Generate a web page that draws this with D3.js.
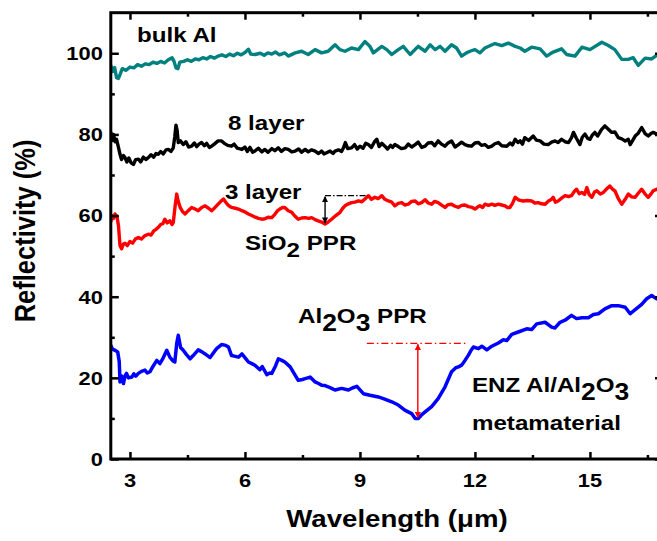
<!DOCTYPE html>
<html>
<head>
<meta charset="utf-8">
<script src="https://cdn.jsdelivr.net/npm/d3@7"></script>
<style>
  body { margin: 0; background: #fff; }
  svg { display: block; }
  text { font-family: 'Liberation Sans', Arial, sans-serif; font-weight: bold; fill: #000; }
</style>
</head>
<body>
<svg id="chart" width="657" height="541"></svg>
<script>
// Reflectivity spectra, [wavelength (µm), reflectivity (%)]
const bulkAl = [
  [2.50,97.0],[2.55,95.5],[2.60,96.5],[2.65,94.0],[2.70,93.8],[2.75,95.0],[2.80,96.2],[2.90,95.8],
  [3.00,96.6],[3.10,96.4],[3.20,97.2],[3.30,96.8],[3.40,97.4],[3.50,97.2],[3.60,97.8],[3.70,97.5],
  [3.80,98.0],[3.90,97.6],[4.00,98.4],[4.10,98.9],[4.15,98.0],[4.20,96.4],[4.25,96.2],[4.30,97.8],
  [4.40,98.0],[4.50,98.4],[4.60,98.0],[4.70,98.6],[4.80,98.4],[4.90,98.9],[5.00,98.6],[5.10,99.2],
  [5.20,98.8],[5.30,99.3],[5.40,99.6],[5.50,99.2],[5.60,99.8],[5.70,99.4],[5.80,100.0],[5.90,99.6],
  [6.00,100.2],[6.09,101.0],[6.15,99.8],[6.26,99.7],[6.40,100.0],[6.50,99.5],[6.60,100.1],[6.70,99.8],
  [6.80,100.3],[6.90,99.6],[7.04,100.1],[7.13,99.3],[7.31,100.1],[7.48,100.5],[7.65,99.7],[7.83,100.9],
  [8.00,100.1],[8.17,100.5],[8.35,102.1],[8.48,100.9],[8.61,100.5],[8.78,101.3],[8.96,100.9],[9.13,102.9],
  [9.26,101.7],[9.35,100.1],[9.57,101.7],[9.70,100.9],[9.83,99.7],[10.00,100.9],[10.13,101.7],[10.31,99.7],
  [10.52,101.7],[10.70,100.5],[10.83,102.1],[10.96,100.9],[11.09,101.7],[11.22,100.5],[11.39,102.1],[11.52,101.3],
  [11.65,99.3],[11.78,100.1],[11.87,100.5],[12.00,100.9],[12.13,100.1],[12.26,101.3],[12.52,102.4],[12.70,101.9],
  [12.87,102.5],[13.05,101.7],[13.18,101.3],[13.30,100.5],[13.48,101.5],[13.70,101.1],[13.87,99.3],[14.04,100.3],
  [14.26,101.1],[14.39,99.7],[14.61,99.3],[14.79,101.5],[15.00,100.9],[15.31,102.7],[15.48,101.9],[15.65,100.9],
  [15.83,98.5],[16.00,98.5],[16.13,98.9],[16.26,97.0],[16.44,98.8],[16.61,98.6],[16.74,99.5],[16.88,99.7]
];

const layer8 = [
  [2.50,80.5],[2.53,78.5],[2.57,80.0],[2.61,78.2],[2.65,78.8],[2.70,76.8],[2.74,75.1],[2.78,73.8],
  [2.83,74.8],[2.87,74.3],[2.92,73.2],[2.97,74.2],[3.03,73.0],[3.09,72.6],[3.15,73.8],[3.22,73.9],
  [3.28,73.2],[3.35,74.4],[3.42,73.8],[3.48,74.3],[3.55,75.0],[3.62,74.4],[3.68,75.3],[3.74,75.1],
  [3.80,75.8],[3.87,75.2],[3.94,76.2],[4.00,76.3],[4.07,75.8],[4.13,76.7],[4.17,79.5],[4.20,82.3],
  [4.23,81.0],[4.26,78.0],[4.32,78.4],[4.39,77.5],[4.46,78.2],[4.53,76.9],[4.61,77.1],[4.68,77.9],
  [4.74,77.0],[4.80,77.6],[4.87,78.0],[4.94,77.2],[5.00,77.8],[5.07,76.8],[5.13,77.1],[5.20,77.6],
  [5.30,78.4],[5.39,78.4],[5.46,77.8],[5.55,77.3],[5.65,77.1],[5.72,77.6],[5.80,76.6],[5.92,76.3],
  [6.00,76.9],[6.06,75.8],[6.13,76.8],[6.20,75.6],[6.26,75.9],[6.35,76.6],[6.44,75.7],[6.52,76.3],
  [6.60,75.6],[6.70,76.5],[6.78,76.0],[6.87,76.7],[6.95,75.8],[7.04,76.5],[7.13,76.3],[7.22,75.7],
  [7.31,75.9],[7.40,76.4],[7.48,75.6],[7.57,76.3],[7.65,75.7],[7.74,76.2],[7.83,75.9],[7.92,75.3],
  [8.00,75.9],[8.06,75.2],[8.13,75.5],[8.22,75.9],[8.30,75.3],[8.35,75.9],[8.44,76.2],[8.52,75.8],
  [8.57,76.7],[8.62,78.0],[8.68,76.5],[8.78,76.7],[8.86,77.5],[8.93,76.4],[9.00,77.1],[9.08,76.6],
  [9.15,77.8],[9.22,77.5],[9.30,76.8],[9.38,78.2],[9.44,78.8],[9.50,77.0],[9.57,77.8],[9.65,77.1],
  [9.72,76.4],[9.80,77.3],[9.85,76.8],[9.91,77.5],[10.00,77.0],[10.08,76.5],[10.18,76.7],[10.26,77.6],
  [10.35,76.9],[10.44,77.5],[10.52,78.1],[10.61,76.8],[10.70,77.1],[10.78,77.9],[10.87,78.0],[10.95,77.2],
  [11.04,78.4],[11.13,77.6],[11.22,77.1],[11.30,77.9],[11.39,78.4],[11.48,76.9],[11.57,77.5],[11.65,78.1],
  [11.74,77.5],[11.83,77.2],[11.91,77.1],[12.00,77.9],[12.09,78.0],[12.17,77.3],[12.26,77.5],[12.35,76.8],
  [12.44,77.1],[12.52,77.7],[12.61,78.0],[12.70,77.2],[12.83,77.1],[12.92,77.9],[12.98,77.4],[13.05,78.8],
  [13.12,78.0],[13.18,78.4],[13.24,77.6],[13.30,79.2],[13.40,78.5],[13.52,79.6],[13.60,78.6],[13.70,78.4],
  [13.80,77.6],[13.91,77.5],[14.00,78.1],[14.09,78.4],[14.17,78.0],[14.26,78.8],[14.35,78.2],[14.44,78.0],
  [14.52,79.2],[14.57,80.5],[14.65,79.0],[14.74,77.5],[14.80,79.3],[14.87,80.1],[14.94,79.0],[15.00,78.8],
  [15.06,79.8],[15.13,80.5],[15.20,79.6],[15.30,81.2],[15.39,82.1],[15.48,81.3],[15.57,80.5],[15.65,80.6],
  [15.74,79.2],[15.83,78.9],[15.92,78.4],[16.00,78.8],[16.05,77.5],[16.12,78.6],[16.18,79.6],[16.26,80.3],
  [16.35,81.7],[16.44,80.2],[16.52,79.6],[16.60,80.3],[16.65,80.5],[16.74,80.1],[16.88,80.4]
];

const layer3 = [
  [2.50,58.5],[2.53,60.0],[2.57,59.3],[2.61,60.4],[2.66,59.8],[2.70,57.5],[2.74,52.6],[2.78,51.8],
  [2.83,53.0],[2.87,53.2],[2.93,52.6],[3.00,53.6],[3.07,53.2],[3.14,54.2],[3.22,54.6],[3.30,54.2],
  [3.38,55.0],[3.48,55.4],[3.55,55.2],[3.62,56.2],[3.68,56.6],[3.74,57.1],[3.80,57.8],[3.86,58.0],
  [3.91,59.1],[3.97,58.2],[4.04,58.7],[4.10,57.8],[4.13,58.3],[4.18,62.5],[4.22,65.3],[4.26,63.5],
  [4.31,62.0],[4.37,61.0],[4.44,60.4],[4.52,61.2],[4.61,62.0],[4.70,61.6],[4.78,61.2],[4.87,62.0],
  [4.96,62.4],[5.05,61.8],[5.13,61.2],[5.22,62.0],[5.30,62.8],[5.37,63.5],[5.44,64.1],[5.52,63.0],
  [5.58,62.4],[5.65,62.0],[5.75,61.8],[5.83,61.6],[5.92,61.2],[6.00,60.9],[6.09,60.4],[6.18,60.0],
  [6.27,59.6],[6.35,59.3],[6.44,59.1],[6.52,59.2],[6.60,59.6],[6.70,59.5],[6.78,60.3],[6.85,61.2],
  [6.91,61.6],[6.98,62.0],[7.04,62.0],[7.13,61.2],[7.22,60.8],[7.30,59.9],[7.39,59.1],[7.48,59.4],
  [7.57,59.5],[7.66,59.3],[7.74,59.5],[7.83,59.0],[7.91,58.7],[8.00,58.4],[8.09,57.9],[8.17,58.4],
  [8.26,59.1],[8.37,60.0],[8.48,60.8],[8.55,61.8],[8.61,62.4],[8.70,62.9],[8.78,63.2],[8.87,63.3],
  [8.96,63.6],[9.05,63.4],[9.13,64.1],[9.22,64.9],[9.30,64.0],[9.39,64.5],[9.48,64.2],[9.57,64.9],
  [9.65,64.0],[9.74,63.6],[9.82,63.4],[9.91,62.4],[10.00,63.0],[10.09,63.2],[10.17,62.6],[10.26,62.8],
  [10.35,63.5],[10.44,63.6],[10.52,62.9],[10.61,63.2],[10.70,63.9],[10.78,63.1],[10.87,62.8],[10.95,63.5],
  [11.04,63.2],[11.13,62.6],[11.22,62.0],[11.30,62.7],[11.39,62.8],[11.48,62.3],[11.57,62.0],[11.65,62.5],
  [11.74,62.6],[11.83,62.2],[11.93,62.0],[12.00,61.6],[12.07,62.1],[12.13,62.4],[12.20,62.0],[12.26,62.8],
  [12.35,62.5],[12.44,62.8],[12.52,62.5],[12.61,62.8],[12.70,62.6],[12.78,62.4],[12.85,62.0],[12.91,62.0],
  [12.98,63.0],[13.05,64.5],[13.15,63.8],[13.26,63.6],[13.37,63.7],[13.48,63.6],[13.56,63.1],[13.65,63.2],
  [13.74,62.9],[13.83,62.8],[13.92,63.6],[14.00,64.0],[14.04,64.5],[14.10,63.3],[14.17,63.6],[14.26,64.3],
  [14.35,64.9],[14.44,64.7],[14.52,64.9],[14.58,65.8],[14.65,66.5],[14.72,65.4],[14.79,65.7],[14.86,65.2],
  [14.92,66.9],[14.98,65.2],[15.05,64.5],[15.12,65.8],[15.18,66.1],[15.27,65.3],[15.35,65.7],[15.44,66.6],
  [15.52,67.3],[15.58,66.6],[15.65,66.1],[15.74,64.2],[15.83,62.8],[15.92,64.0],[16.00,65.3],[16.09,64.6],
  [16.18,64.5],[16.26,65.5],[16.35,66.5],[16.44,65.3],[16.52,64.5],[16.60,65.4],[16.65,66.1],[16.74,66.5],
  [16.88,65.8]
];

const enzMeta = [
  [2.50,28.0],[2.55,27.0],[2.61,26.8],[2.68,26.4],[2.72,24.0],[2.74,19.0],[2.78,20.5],[2.83,18.6],
  [2.87,20.5],[2.91,21.1],[2.96,20.0],[3.05,20.2],[3.10,21.0],[3.15,20.4],[3.22,21.1],[3.30,21.6],
  [3.39,21.9],[3.45,21.2],[3.52,21.5],[3.60,22.8],[3.70,24.3],[3.78,23.5],[3.85,24.6],[3.96,26.8],
  [4.04,25.1],[4.12,24.2],[4.17,23.9],[4.22,28.5],[4.26,30.5],[4.32,27.5],[4.39,26.8],[4.47,25.8],
  [4.57,24.7],[4.65,25.5],[4.78,26.9],[4.88,26.4],[4.96,25.9],[5.09,25.0],[5.18,26.2],[5.26,27.2],
  [5.39,28.2],[5.50,28.0],[5.57,27.6],[5.65,25.5],[5.75,25.3],[5.83,25.1],[5.92,25.9],[6.00,25.0],
  [6.09,23.9],[6.18,23.5],[6.26,23.1],[6.39,22.0],[6.45,22.8],[6.57,20.8],[6.65,21.2],[6.70,21.1],
  [6.80,23.0],[6.87,24.7],[6.96,24.3],[7.04,23.9],[7.18,22.7],[7.30,20.8],[7.39,19.4],[7.50,19.6],
  [7.57,19.8],[7.70,20.2],[7.83,19.0],[7.92,18.6],[8.00,18.2],[8.09,18.1],[8.17,17.8],[8.26,17.4],
  [8.35,17.0],[8.52,17.4],[8.70,17.0],[8.80,17.5],[8.92,17.9],[9.09,16.1],[9.26,15.7],[9.48,15.3],
  [9.61,14.9],[9.83,14.1],[10.00,13.3],[10.18,12.0],[10.35,11.2],[10.44,10.0],[10.52,10.0],[10.60,10.8],
  [10.70,11.6],[10.87,12.9],[11.04,14.9],[11.22,17.8],[11.39,21.5],[11.50,22.5],[11.57,22.7],[11.66,23.2],
  [11.74,24.3],[11.83,25.6],[11.90,26.8],[11.96,27.6],[12.09,27.2],[12.18,27.8],[12.31,26.9],[12.44,27.8],
  [12.61,28.6],[12.74,29.4],[12.83,29.2],[12.96,30.7],[13.13,31.3],[13.35,32.1],[13.48,31.9],[13.61,33.3],
  [13.83,33.7],[14.00,32.5],[14.09,32.3],[14.22,33.7],[14.35,34.2],[14.52,35.4],[14.65,34.6],[14.79,34.8],
  [14.96,34.8],[15.09,35.6],[15.22,35.8],[15.39,37.0],[15.57,37.8],[15.74,37.8],[15.92,37.4],[16.05,35.8],
  [16.18,36.8],[16.35,38.1],[16.48,39.5],[16.61,40.3],[16.74,39.5],[16.88,38.9]
];

const xTicks = [3, 6, 9, 12, 15];
const xMinorTicks = [4.5, 7.5, 10.5, 13.5, 16.5];
const yTicks = [0, 20, 40, 60, 80, 100];
const yMinorTicks = [10, 30, 50, 70, 90];

// Reflectivity dips: [wavelength, dip value, reference level, end of reference line]
const sio2Dip = [8.09, 57.9, 64.9, 9.21];
const al2o3Dip = [10.51, 10.0, 28.5, 11.79];
const al2o3RefStart = 9.18;

const svg = d3.select('#chart');
const plotL = 110.8, plotR = 662, plotT = 12.7, plotB = 459;

const x = d3.scaleLinear().domain([2.5, 16.88]).range([plotL, plotR]);
const y = d3.scaleLinear().domain([0, 110]).range([plotB, plotT]);

svg.append('rect').attr('width', 657).attr('height', 541).attr('fill', '#fff');

const defs = svg.append('defs');
defs.append('clipPath').attr('id', 'plotArea')
  .append('rect').attr('x', plotL).attr('y', plotT).attr('width', plotR - plotL).attr('height', plotB - plotT);

// Spectra
const line = d3.line().x(d => x(d[0])).y(d => y(d[1]));
const series = [
  { data: bulkAl, color: '#00807f', width: 3.4 },
  { data: layer8, color: '#000000', width: 3.4 },
  { data: layer3, color: '#ff0000', width: 3.4 },
  { data: enzMeta, color: '#0000ff', width: 3.5 }
];
const plot = svg.append('g').attr('clip-path', 'url(#plotArea)');
series.forEach(s => {
  plot.append('path').datum(s.data).attr('d', line)
    .attr('fill', 'none').attr('stroke', s.color).attr('stroke-width', s.width)
    .attr('stroke-linejoin', 'round').attr('stroke-linecap', 'round');
});

// Frame and inward ticks
function styleAxis(g, w) {
  g.select('.domain').remove();
  g.selectAll('.tick line').attr('stroke', '#000').attr('stroke-width', w);
  g.selectAll('.tick text').remove();
}
function addAxis(axis, tx, ty) {
  svg.append('g').attr('transform', `translate(${tx},${ty})`).call(axis).call(g => styleAxis(g, 2.5));
}
addAxis(d3.axisBottom(x).tickValues(xTicks).tickSize(-7), 0, plotB);
addAxis(d3.axisBottom(x).tickValues(xMinorTicks).tickSize(-4), 0, plotB);
addAxis(d3.axisTop(x).tickValues(xTicks).tickSize(-7), 0, plotT);
addAxis(d3.axisTop(x).tickValues(xMinorTicks).tickSize(-4), 0, plotT);
addAxis(d3.axisLeft(y).tickValues(yTicks).tickSize(-8), plotL, 0);
addAxis(d3.axisLeft(y).tickValues(yMinorTicks).tickSize(-4), plotL, 0);
addAxis(d3.axisRight(y).tickValues(yTicks).tickSize(-7), plotR, 0);
addAxis(d3.axisRight(y).tickValues(yMinorTicks).tickSize(-4), plotR, 0);

svg.append('rect').attr('x', plotL).attr('y', plotT).attr('width', plotR - plotL).attr('height', plotB - plotT)
  .attr('fill', 'none').attr('stroke', '#000').attr('stroke-width', 3);

// Tick labels (slightly widened bold type)
const sx = 1.15;
yTicks.forEach(v => {
  svg.append('text').attr('transform', `translate(${plotL - 8},${y(v)}) scale(${sx},1)`)
    .attr('text-anchor', 'end').attr('dy', '0.36em').style('font-size', '19px').text(v);
});
xTicks.forEach(v => {
  svg.append('text').attr('transform', `translate(${x(v)},${plotB + 28}) scale(${sx},1)`)
    .attr('text-anchor', 'middle').style('font-size', '19px').text(v);
});

// Axis titles
svg.append('text').attr('transform', `translate(397,527) scale(${sx},1)`)
  .attr('text-anchor', 'middle').style('font-size', '24px').text('Wavelength (μm)');
svg.append('text').attr('transform', `translate(35,231) scale(${sx},1) rotate(-90)`)
  .attr('text-anchor', 'middle').style('font-size', '25.5px').text('Reflectivity (%)');

// Curve labels; parts marked sub are lowered chemical subscripts
function label(px, py, parts, size, subSize, subShift) {
  const t = svg.append('text').attr('transform', `translate(${px},${py}) scale(${sx},1)`)
    .style('font-size', size + 'px');
  let shifted = false;
  parts.forEach(p => {
    const sp = t.append('tspan').text(p.t);
    if (p.sub) {
      sp.style('font-size', subSize + 'px');
      if (!shifted) { sp.attr('dy', subShift); shifted = true; }
    } else if (shifted) {
      sp.attr('dy', -subShift); shifted = false;
    }
  });
}
label(137, 42, [{ t: 'bulk Al' }], 21);
label(228, 130, [{ t: '8 layer' }], 21);
label(225, 199, [{ t: '3 layer' }], 21);
label(245, 250, [{ t: 'SiO' }, { t: '2', sub: true }, { t: ' PPR' }], 21, 21, 7);
label(298, 323, [{ t: 'Al' }, { t: '2', sub: true }, { t: 'O' }, { t: '3', sub: true }, { t: ' PPR' }], 21, 23, 8);
label(472, 392, [{ t: 'ENZ Al/Al' }, { t: '2', sub: true }, { t: 'O' }, { t: '3', sub: true }], 21, 23, 8);
label(472, 430, [{ t: 'metamaterial' }], 21);

// Dip depth markers: dash-dot reference line and a double-headed arrow
[['arrBlack', '#000'], ['arrRed', '#ff0000']].forEach(([id, c]) => {
  defs.append('marker').attr('id', id).attr('viewBox', '0 0 10 10').attr('refX', 9).attr('refY', 5)
    .attr('markerWidth', 4.5).attr('markerHeight', 4.5).attr('orient', 'auto-start-reverse')
    .append('path').attr('d', 'M0,0 L10,5 L0,10 z').attr('fill', c);
});
function dipMarker(dip, refStart, color, marker, dash, width) {
  svg.append('line').attr('x1', x(refStart)).attr('x2', x(dip[3]))
    .attr('y1', y(dip[2])).attr('y2', y(dip[2]))
    .attr('stroke', color).attr('stroke-width', width).attr('stroke-dasharray', dash);
  svg.append('line').attr('x1', x(dip[0])).attr('x2', x(dip[0]))
    .attr('y1', y(dip[2]) + 1).attr('y2', y(dip[1]) - 1)
    .attr('stroke', color).attr('stroke-width', 1.4)
    .attr('marker-start', `url(#${marker})`).attr('marker-end', `url(#${marker})`);
}
dipMarker(sio2Dip, sio2Dip[0], '#000', 'arrBlack', '6,2,1.5,2', 1.2);
dipMarker(al2o3Dip, al2o3RefStart, '#ff0000', 'arrRed', '7,3,1.5,3', 1.2);
</script>
</body>
</html>
